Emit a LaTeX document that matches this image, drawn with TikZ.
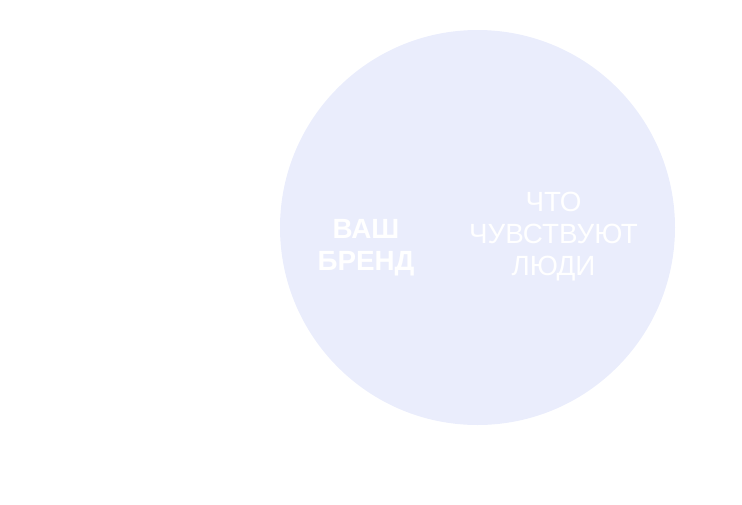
\documentclass[tikz,border=0pt]{standalone}
\usepackage{fontspec}
\setmainfont{Liberation Sans}
\definecolor{lavender}{HTML}{EAEDFC}
\begin{document}
\begin{tikzpicture}[x=1pt, y=-1pt,
    label text/.style={text=white, align=center, inner sep=0pt, font=\fontsize{27.8}{32.3}\selectfont}]
            \useasboundingbox (0,0) rectangle (742,504);

            % circle
            \node[circle, fill=lavender, minimum size=395pt, inner sep=0pt] (circ) at (477.5,227.5) {};

            \node[label text, font=\fontsize{27.8}{32.3}\selectfont\bfseries] (brand) at (366,248) {ВАШ\\БРЕНД};
            \node[label text] (feel) at (553.5,236.5) {ЧТО\\ЧУВСТВУЮТ\\ЛЮДИ};
        \end{tikzpicture}
\end{document}
